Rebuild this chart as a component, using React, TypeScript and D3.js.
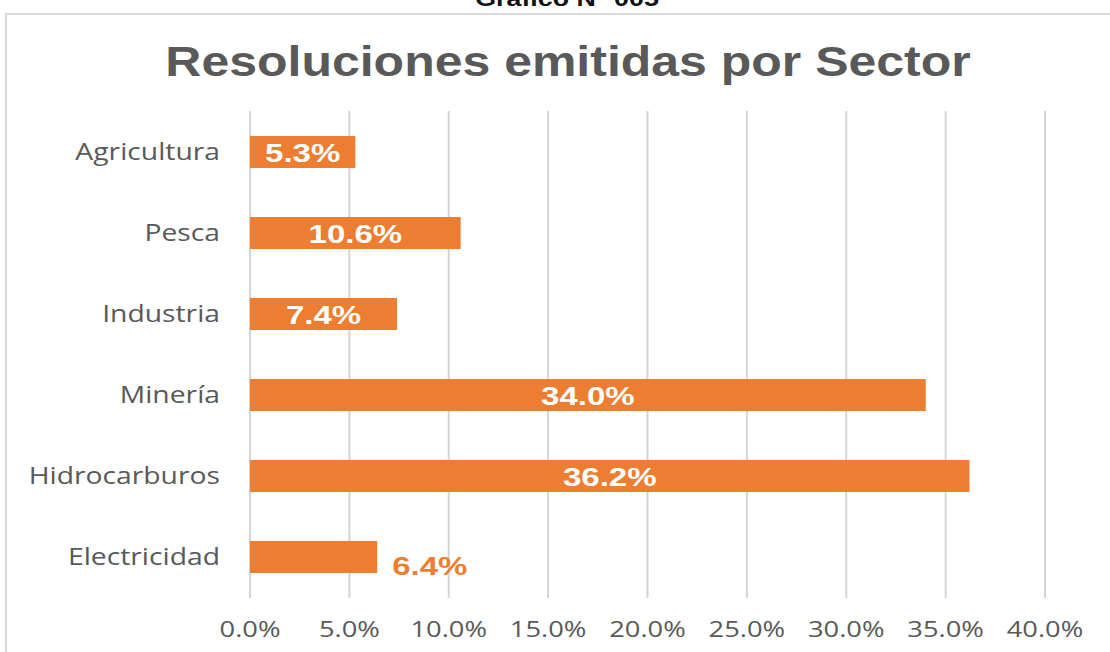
import React, { useEffect, useRef } from "react";
import * as d3 from "d3";

// values
const sectors = ["Agricultura", "Pesca", "Industria", "Minería", "Hidrocarburos", "Electricidad"];
const shares = [5.3, 10.6, 7.4, 34.0, 36.2, 6.4];
const xTicks = [0, 5, 10, 15, 20, 25, 30, 35, 40];
const outsideLabels = ["Electricidad"]; // label drawn right of the bar

const ORANGE = "#ED7D31";
const GRAY = "#595959";

export default function App() {
  const ref = useRef<SVGSVGElement>(null);

  useEffect(() => {
    const width = 1110;
    const height = 652;
    const svg = d3.select(ref.current).attr("width", width).attr("height", height);
    svg.selectAll("*").remove();

    const data = sectors.map((s, i) => ({ sector: s, value: shares[i] }));

    const xScale = d3.scaleLinear().domain([0, 40]).range([250, 1045]);
    const yScale = d3.scaleBand<string>().domain(sectors).range([111.5, 597.5])
      .paddingInner(0.605).paddingOuter(0.3025);

    // the picture is stretched sideways, so text gets a horizontal scale
    const stretched = (g: any, x: number, y: number, sx: number) =>
      g.append("text").attr("transform", `translate(${x},${y}) scale(${sx},1)`);

    // heading cut off at the top of the page
    stretched(svg, 567, 6, 1.22)
      .attr("text-anchor", "middle")
      .attr("font-family", "'Liberation Sans', Arial, sans-serif")
      .attr("font-weight", "bold").attr("font-size", 22).attr("fill", "#111")
      .text("Gráfico N° 005");

    // chart frame
    svg.append("rect").attr("x", 6).attr("y", 14).attr("width", 1130).attr("height", 700)
      .attr("fill", "none").attr("stroke", "#d9d9d9").attr("stroke-width", 2);

    // title
    stretched(svg, 568, 76, 1.19)
      .attr("text-anchor", "middle")
      .attr("font-family", "'Liberation Sans', Arial, sans-serif")
      .attr("font-weight", "bold").attr("font-size", 42).attr("fill", GRAY)
      .text("Resoluciones emitidas por Sector");

    // gridlines
    svg.append("g").selectAll("line").data(xTicks).join("line")
      .attr("x1", d => xScale(d)).attr("x2", d => xScale(d))
      .attr("y1", 111).attr("y2", 598)
      .attr("stroke", "#d2d4d8").attr("stroke-width", 2);

    // x tick labels
    const tickG = svg.append("g");
    xTicks.forEach(t => {
      stretched(tickG, xScale(t), 637, 1.3)
        .attr("text-anchor", "middle")
        .attr("font-family", "'Open Sans', sans-serif")
        .attr("font-size", 21).attr("fill", GRAY)
        .text(d3.format(".1f")(t) + "%");
    });

    // category labels
    const catG = svg.append("g");
    sectors.forEach(s => {
      stretched(catG, 220, yScale(s)! + yScale.bandwidth() / 2 + 8, 1.23)
        .attr("text-anchor", "end")
        .attr("font-family", "'Open Sans', sans-serif")
        .attr("font-size", 23).attr("fill", GRAY)
        .text(s);
    });

    // bars
    svg.append("g").selectAll("rect").data(data).join("rect")
      .attr("x", xScale(0))
      .attr("y", d => yScale(d.sector)!)
      .attr("width", d => xScale(d.value) - xScale(0))
      .attr("height", yScale.bandwidth())
      .attr("fill", ORANGE);

    // value labels
    const labG = svg.append("g");
    data.forEach(d => {
      const mid = yScale(d.sector)! + yScale.bandwidth() / 2;
      const outside = outsideLabels.includes(d.sector);
      const x = outside ? xScale(d.value) + 15 : (xScale(0) + xScale(d.value)) / 2;
      stretched(labG, x, outside ? mid + 18 : mid + 9.5, 1.27)
        .attr("text-anchor", outside ? "start" : "middle")
        .attr("font-family", "'Liberation Sans', Arial, sans-serif")
        .attr("font-weight", "bold").attr("font-size", 26)
        .attr("fill", outside ? ORANGE : "#ffffff")
        .text(d3.format(".1f")(d.value) + "%");
    });
  }, []);

  return (
    <svg
      ref={ref}
      style={{ position: "absolute", left: 0, top: 0, display: "block", background: "#fff" }}
    />
  );
}
